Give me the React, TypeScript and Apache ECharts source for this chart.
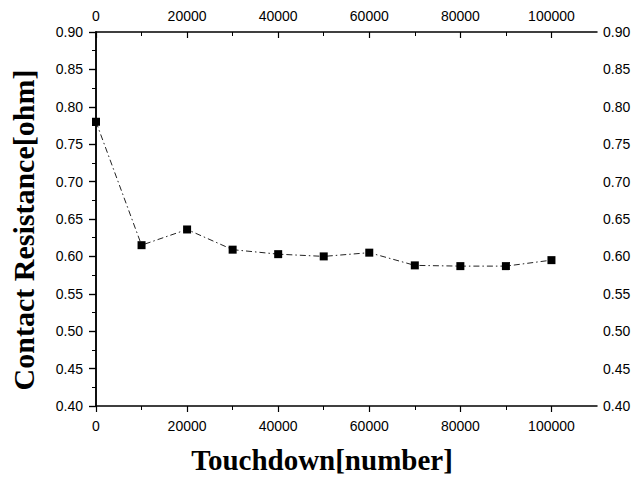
import React, { useEffect, useRef } from "react";
import * as echarts from "echarts";

const touchdowns = [0, 10000, 20000, 30000, 40000, 50000, 60000, 70000, 80000, 90000, 100000];
const resistance = [0.78, 0.615, 0.636, 0.609, 0.603, 0.6, 0.605, 0.588, 0.587, 0.587, 0.595];
const xMajorTicks = [0, 20000, 40000, 60000, 80000, 100000];
const xMinorTicks = [10000, 30000, 50000, 70000, 90000];
const xTitle = "Touchdown[number]";
const yTitle = "Contact Resistance[ohm]";

export default function App() {
  const ref = useRef<HTMLDivElement>(null);
  useEffect(() => {
    if (!ref.current) return;
    const chart = echarts.init(ref.current, null, { renderer: "svg" });
    const labelFont = { color: "#000", fontFamily: "Liberation Sans", fontSize: 14 };
    const line = { show: true, lineStyle: { color: "#000", width: 1.5 } };
    const xBase = { type: "value", min: 0, max: 110000, gridIndex: 0, splitLine: { show: false } };
    const yBase = { type: "value", min: 0.4, max: 0.9, interval: 0.05, splitLine: { show: false } };
    chart.setOption({
      animation: false,
      backgroundColor: "#fff",
      grid: { left: 96, right: 41, top: 32, bottom: 71, containLabel: false },
      xAxis: [
        {
          ...xBase,
          position: "bottom",
          axisLine: line,
          axisTick: { show: true, inside: false, length: 6, customValues: xMajorTicks, lineStyle: { color: "#000", width: 1.2 } },
          axisLabel: { ...labelFont, margin: 13, customValues: xMajorTicks, formatter: (v: number) => String(v) },
        },
        {
          ...xBase,
          position: "top",
          axisLine: line,
          axisTick: { show: true, inside: true, length: 6, customValues: xMajorTicks, lineStyle: { color: "#000", width: 1.2 } },
          axisLabel: { ...labelFont, margin: 9, customValues: xMajorTicks, formatter: (v: number) => String(v) },
        },
        {
          ...xBase,
          position: "bottom",
          axisLine: { show: false },
          axisTick: { show: true, inside: false, length: 4, customValues: xMinorTicks, lineStyle: { color: "#000", width: 1 } },
          axisLabel: { show: false },
        },
        {
          ...xBase,
          position: "top",
          axisLine: { show: false },
          axisTick: { show: true, inside: true, length: 4, customValues: xMinorTicks, lineStyle: { color: "#000", width: 1 } },
          axisLabel: { show: false },
        },
      ],
      yAxis: [
        {
          ...yBase,
          position: "left",
          axisLine: line,
          axisTick: { show: true, inside: false, length: 7, lineStyle: { color: "#000", width: 1.2 } },
          minorTick: { show: true, splitNumber: 2, length: 4, lineStyle: { color: "#000", width: 1 } },
          axisLabel: { ...labelFont, margin: 13, formatter: (v: number) => v.toFixed(2) },
        },
        {
          ...yBase,
          position: "right",
          axisLine: line,
          axisTick: { show: true, inside: true, length: 7, lineStyle: { color: "#000", width: 1.2 } },
          minorTick: { show: true, splitNumber: 2, length: 4, lineStyle: { color: "#000", width: 1 } },
          axisLabel: { ...labelFont, margin: 6, formatter: (v: number) => v.toFixed(2) },
        },
      ],
      series: [
        {
          type: "line",
          xAxisIndex: 0,
          yAxisIndex: 0,
          data: touchdowns.map((x, i) => [x, resistance[i]]),
          symbol: "rect",
          symbolSize: 8,
          itemStyle: { color: "#000" },
          lineStyle: { color: "#222", width: 1, type: [6, 3, 1.5, 3] },
        },
      ],
      graphic: [
        {
          type: "text",
          x: 23,
          y: 230,
          rotation: Math.PI / 2,
          style: {
            text: yTitle,
            fontFamily: "Liberation Serif",
            fontWeight: "bold",
            fontSize: 30,
            fill: "#000",
            align: "center",
            verticalAlign: "middle",
          },
        },
        {
          type: "text",
          x: 322,
          y: 460,
          style: {
            text: xTitle,
            fontFamily: "Liberation Serif",
            fontWeight: "bold",
            fontSize: 29,
            fill: "#000",
            align: "center",
            verticalAlign: "middle",
          },
        },
      ],
    });
    return () => chart.dispose();
  }, []);
  return <div ref={ref} style={{ width: 638, height: 477, position: "absolute", left: 0, top: 0 }} />;
}
